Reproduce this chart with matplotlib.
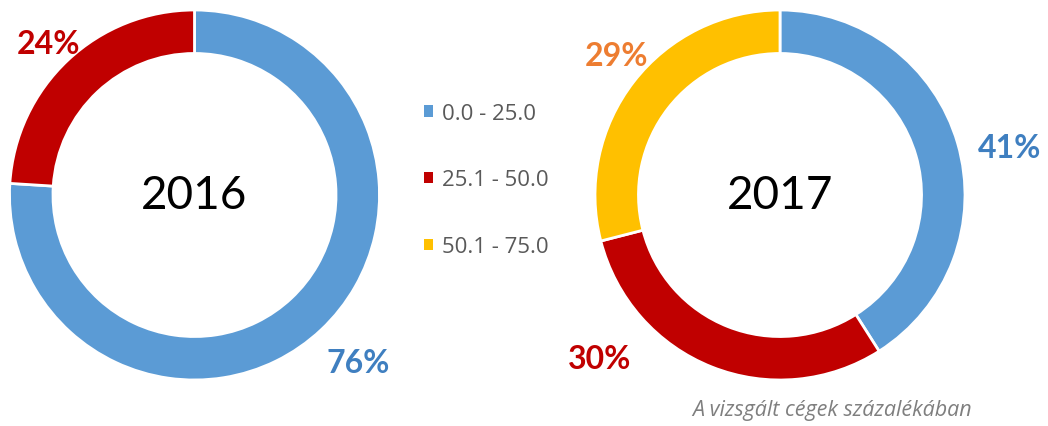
import matplotlib
matplotlib.use("Agg")
import matplotlib.pyplot as plt
from matplotlib.patches import Patch

plt.rcParams['font.family'] = ['Lato', 'DejaVu Sans']

# data
categories = ['0.0 - 25.0', '25.1 - 50.0', '50.1 - 75.0']
years = ['2016', '2017']
share_2016 = [76, 24]
share_2017 = [41, 30, 29]
footnote = 'A vizsgált cégek százalékában'

colors = ['#5B9BD5', '#C00000', '#FFC000']
label_colors = ['#3F7FC0', '#C00000', '#ED7D31']

W, H = 1048, 427
fig = plt.figure(figsize=(W / 100, H / 100), dpi=100)

R = 185  # outer radius in px


def donut(cx, cy, values, year, label_pos):
    ax = fig.add_axes([(cx - R) / W, (H - cy - R) / H, 2 * R / W, 2 * R / H])
    wedges, _ = ax.pie(values, colors=colors[:len(values)], startangle=90,
                       counterclock=False, radius=1,
                       wedgeprops=dict(width=0.235, edgecolor='white', linewidth=2))
    ax.set_xlim(-1, 1)
    ax.set_ylim(-1, 1)
    ax.text(0, 0, year, ha='center', va='center', fontsize=33, color='black')
    for i, v in enumerate(values):
        px, py = label_pos[i]
        ax.text((px - cx) / R, (cy - py) / R, f'{v}%', ha='center', va='center',
                fontsize=23, fontweight='bold', color=label_colors[i])
    return ax


donut(194.5, 196, share_2016, years[0], [(358, 364), (48, 44)])
donut(780, 196, share_2017, years[1], [(1010, 148), (600, 360), (617, 57)])

handles = [Patch(facecolor=c, edgecolor='none') for c in colors]
fig.legend(handles, categories, loc='center left',
           bbox_to_anchor=(424 / W, 1 - 181 / H), frameon=False,
           prop={'family': 'Open Sans', 'size': 16}, labelcolor='#595959',
           handlelength=0.4, handleheight=0.4,
           handletextpad=0.42, labelspacing=2.05, borderaxespad=0, borderpad=0)

fig.text(832 / W, 1 - 411 / H, footnote, ha='center', va='center',
         fontsize=15.5, style='italic', color='#7F7F7F', family='Open Sans')

fig.savefig('out.png', dpi=100, facecolor='white')
